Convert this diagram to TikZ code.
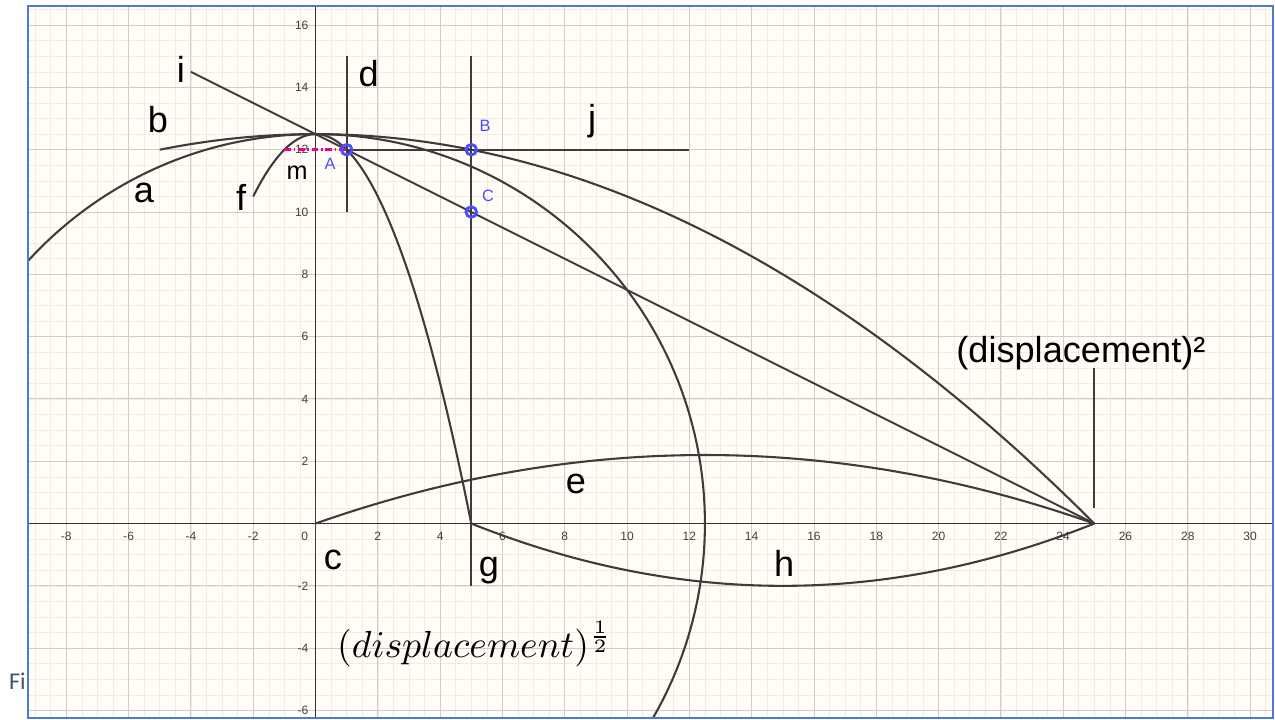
\documentclass[tikz,border=0pt]{standalone}
\usepackage[no-math]{fontspec}
\setmainfont{Liberation Sans}
\newfontfamily\wordfont{Carlito}
\usetikzlibrary{positioning}

\definecolor{paper}{RGB}{255,253,246}
\definecolor{gridmajor}{RGB}{208,205,199}
\definecolor{gridminor}{RGB}{243,234,228}
\definecolor{frameblue}{RGB}{74,123,214}
\definecolor{curvegray}{RGB}{60,60,60}
\definecolor{ptblue}{RGB}{77,77,255}
\definecolor{captiongray}{RGB}{68,84,106}

\begin{document}
\begin{tikzpicture}[x=1cm, y=1cm,
	curve/.style={curvegray, line width=1.9pt},
	seg/.style={curvegray, line width=1.7pt},
	lbl/.style={font=\fontsize{33}{36}\selectfont, anchor=base, inner sep=0pt},
	ptlbl/.style={font=\fontsize{15}{18}\selectfont, text=ptblue, anchor=base, inner sep=0pt},
	pt/.style={draw=ptblue, line width=2.6pt},
	ticklbl/.style={font=\fontsize{11}{13}\selectfont, text=black!75, inner sep=0pt}]
	\useasboundingbox (-10.128,-6.276) rectangle (30.80,16.806);
	\fill[white] (-10.128,-6.276) rectangle (30.80,16.806);
	\fill[paper] (-9.23,-6.244) rectangle (30.74,16.60);

	% caption left of the view
	\node[font=\wordfont\fontsize{22}{26}\selectfont, text=captiongray, anchor=base west, inner sep=0pt] (fig) at (-9.84,-5.33) {Fi};

	\begin{scope}
		\clip (-9.23,-6.244) rectangle (30.74,16.60);
		% grid
		\draw[gridminor, line width=0.5pt, step=0.5] (-10,-7) grid (31,17);
		\draw[gridmajor, line width=0.8pt, step=2] (-10,-8) grid (32,18);
		% axes
		\draw[black!80, line width=0.8pt] (-10,0) -- (31,0);
		\draw[black!80, line width=0.8pt] (0,-7) -- (0,17);
		\foreach \x in {-8,-6,-4,-2,2,4,...,30}
			\node[ticklbl] at (\x,-0.42) {\x};
		\foreach \y in {-6,-4,-2,2,4,...,16}
			\node[ticklbl, anchor=east] at (-0.22,\y) {\y};
		\node[ticklbl] at (-0.35,-0.42) {0};

		% curves
		\draw[curve] (0,0) circle (12.5); % a
		\draw[curve, domain=-5:25, samples=120] plot (\x, {12.5-0.02*\x*\x}); % b
		\draw[curve, domain=0:25, samples=80] plot (\x, {0.352*\x-0.01408*\x*\x}); % e
		\draw[curve, domain=-2:5, samples=80] plot (\x, {12.5-0.5*\x*\x}); % f
		\draw[curve, domain=5:25, samples=80] plot (\x, {0.02*(\x-15)^2-2}); % h

		% points
		\coordinate (A) at (1,12);
		\coordinate (B) at (5,12);
		\coordinate (C) at (5,10);
		\coordinate (P) at (25,0);

		% segments
		\draw[seg] (0,-1) -- (0,1); % c
		\draw[seg] (1,10) -- (1,15); % d
		\draw[seg] (5,-2) -- (5,15); % g
		\draw[seg] (-4,14.5) -- (P); % i
		\draw[seg] (A) -- (12,12); % j
		\draw[seg] (25,0.5) -- (25,5);
		\draw[magenta, line width=2.6pt, dash pattern=on 6pt off 2.5pt on 1.5pt off 2.5pt] (-1,12) -- (A); % m

		\foreach \p in {A,B,C}
			\draw[pt] (\p) circle (0.17);
	\end{scope}

	% labels
	\node[lbl] (la) at (-5.51,10.29) {a};
	\node[lbl] (lb) at (-5.06,12.54) {b};
	\node[lbl] (lc) at (0.56,-1.49) {c};
	\node[lbl] (ld) at (1.71,14.04) {d};
	\node[lbl] (le) at (8.36,0.98) {e};
	\node[lbl] (lf) at (-2.39,10.06) {f};
	\node[lbl] (lg) at (5.57,-1.69) {g};
	\node[lbl] (lh) at (15.04,-1.69) {h};
	\node[lbl] (li) at (-4.32,14.17) {i};
	\node[lbl] (lj) at (8.88,12.63) {j};
	\node[lbl, font=\fontsize{23}{26}\selectfont] (lm) at (-0.59,11.03) {m};
	\node[ptlbl] (lA) at (0.47,11.35) {A};
	\node[ptlbl] (lB) at (5.44,12.57) {B};
	\node[ptlbl] (lC) at (5.54,10.35) {C};
	\node[lbl] (sq) at (24.57,5.18) {(displacement)²};
	\node[anchor=base, inner sep=0pt, scale=3.45] (root) at (5.12,-4.29) {$(displacement)^{\frac{1}{2}}$};

	% view frame
	\draw[frameblue, line width=1.8pt] (-9.23,-6.244) rectangle (30.74,16.60);
\end{tikzpicture}
\end{document}
